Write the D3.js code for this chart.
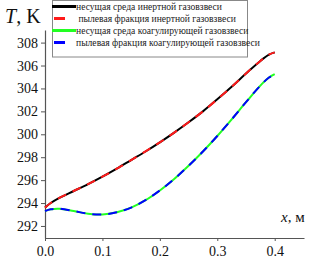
<!DOCTYPE html>
<html>
<head>
<meta charset="utf-8">
<script src="https://cdn.jsdelivr.net/npm/d3@7"></script>
<style>
  body { margin: 0; background: #fff; }
</style>
</head>
<body>
<script>
// Dimensiones del gráfico
const WIDTH = 328;
const HEIGHT = 273;
const MARGIN = { top: 30, bottom: 35, left: 45, right: 24 };
const HEIGHTVIS = HEIGHT - MARGIN.top - MARGIN.bottom;
const WIDTHVIS = WIDTH - MARGIN.left - MARGIN.right;
const FUENTE = "'Liberation Serif'";

// Datos
const xValores = [0, 0.01, 0.025, 0.05, 0.075, 0.1, 0.125, 0.15, 0.175, 0.2, 0.225, 0.25, 0.275, 0.3, 0.325, 0.35, 0.375, 0.39, 0.4];
const tInerte = [293.6, 294.0, 294.45, 295.05, 295.65, 296.3, 297.0, 297.75, 298.5, 299.3, 300.15, 301.05, 302.0, 303.05, 304.15, 305.3, 306.4, 306.95, 307.15];
const tCoagulante = [293.3, 293.45, 293.5, 293.3, 293.07, 293.0, 293.2, 293.6, 294.25, 295.1, 296.1, 297.25, 298.5, 299.85, 301.3, 302.8, 304.25, 304.95, 305.25];
const xTicks = [0, 0.1, 0.2, 0.3, 0.4];
const yTicks = [292, 294, 296, 298, 300, 302, 304, 306, 308];
const leyenda = [
  "несущая среда инертной газовзвеси",
  " пылевая фракция инертной газовзвеси",
  "несущая среда коагулирующей газовзвеси",
  "пылевая фракция коагулирующей газовзвеси",
];

const svg = d3.select("body")
  .append("svg")
  .attr("width", WIDTH)
  .attr("height", HEIGHT);

const escalaX = d3.scaleLinear().domain([0, 0.451]).range([0, WIDTHVIS]);
const escalaY = d3.scaleLinear().domain([290.95, 309.1]).range([HEIGHTVIS, 0]);

const contenedorVis = svg.append("g")
  .attr("transform", `translate(${MARGIN.left}, ${MARGIN.top})`);

// Ejes
const ejeX = contenedorVis.append("g")
  .attr("transform", `translate(0, ${HEIGHTVIS})`)
  .call(d3.axisBottom(escalaX).tickValues(xTicks).tickFormat(d3.format(".1f")).tickSizeInner(3).tickSizeOuter(0).tickPadding(5));

const ejeY = contenedorVis.append("g")
  .call(d3.axisLeft(escalaY).tickValues(yTicks).tickSizeInner(4).tickSizeOuter(0).tickPadding(3));

[ejeX, ejeY].forEach(eje => {
  eje.select(".domain").attr("stroke", "#555").attr("stroke-width", 1.2);
  eje.selectAll(".tick line").attr("stroke", "#555");
  eje.selectAll("text")
    .style("font-family", FUENTE)
    .attr("font-size", 14)
    .attr("fill", "#111");
});

// Curvas
const linea = d3.line()
  .x((d, i) => escalaX(xValores[i]))
  .y(d => escalaY(d))
  .curve(d3.curveCatmullRom.alpha(0.5));

const series = [
  { datos: tInerte, color: "#000000", dash: null },
  { datos: tInerte, color: "#ff1a1a", dash: "9,7" },
  { datos: tCoagulante, color: "#22ff22", dash: null },
  { datos: tCoagulante, color: "#0000ff", dash: "9,7" },
];

contenedorVis.selectAll("path.serie")
  .data(series)
  .join("path")
  .attr("class", "serie")
  .attr("fill", "none")
  .attr("stroke", d => d.color)
  .attr("stroke-width", 2)
  .attr("stroke-dasharray", d => d.dash)
  .attr("d", d => linea(d.datos));

// Títulos de ejes
const tituloY = svg.append("text")
  .attr("x", 5)
  .attr("y", 23)
  .attr("font-size", 20)
  .style("font-family", FUENTE)
  .attr("fill", "#111");
tituloY.append("tspan").attr("font-style", "italic").text("T");
tituloY.append("tspan").text(", K");

const tituloX = svg.append("text")
  .attr("x", 281)
  .attr("y", 222)
  .attr("font-size", 15)
  .style("font-family", FUENTE)
  .attr("fill", "#111");
tituloX.append("tspan").attr("font-style", "italic").text("x");
tituloX.append("tspan").text(", м");

// Leyenda
const contLeyenda = svg.append("g");
contLeyenda.append("rect")
  .attr("x", 52.5)
  .attr("y", 0.5)
  .attr("width", 195)
  .attr("height", 56.5)
  .attr("fill", "white")
  .attr("stroke", "#888")
  .attr("stroke-width", 1);

const itemsLeyenda = contLeyenda.selectAll("g.item")
  .data(series)
  .join("g")
  .attr("class", "item")
  .attr("transform", (d, i) => `translate(0, ${6.5 + i * 12})`);

itemsLeyenda.append("line")
  .attr("x1", d => d.dash ? 54 : 52)
  .attr("x2", d => d.dash ? 65 : 76)
  .attr("stroke", d => d.color)
  .attr("stroke-width", 3);

itemsLeyenda.append("text")
  .attr("x", 76)
  .attr("y", 3)
  .attr("font-size", 9.6)
  .style("font-family", FUENTE)
  .attr("fill", "#222")
  .attr("xml:space", "preserve")
  .text((d, i) => leyenda[i]);
</script>
</body>
</html>
